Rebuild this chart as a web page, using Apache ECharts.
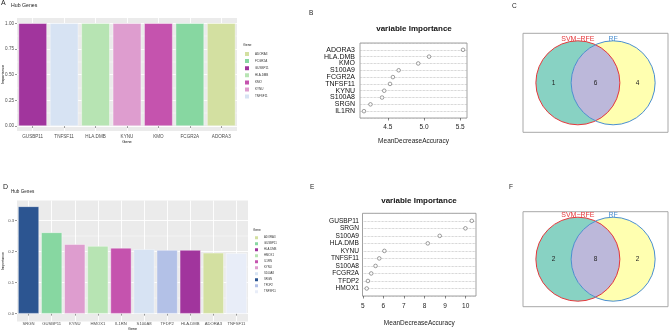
<!DOCTYPE html>
<html>
<head>
<meta charset="utf-8">
<script src="https://cdn.jsdelivr.net/npm/echarts@6/dist/echarts.min.js"></script>
<style>
  html, body { margin: 0; padding: 0; background: #fff; }
  #chart { width: 669px; height: 332px; }
</style>
</head>
<body>
<div id="chart"></div>
<script>
// A: hub genes, importance
const hubGenesA = ['GUSBP11', 'TNFSF11', 'HLA.DMB', 'KYNU', 'KMO', 'FCGR2A', 'ADORA3'];
const hubImportanceA = [1, 1, 1, 1, 1, 1, 1];
const hubColorsA = ['#a1359d', '#d7e3f3', '#b7e4b3', '#de9dcf', '#c553ae', '#87d7a1', '#d3e0a1'];
const yTicksA = [0, 0.25, 0.5, 0.75, 1];

// B: variable importance (random forest)
const varGenesB = ['ADORA3', 'HLA.DMB', 'KMO', 'S100A9', 'FCGR2A', 'TNFSF11', 'KYNU', 'S100A8', 'SRGN', 'IL1RN'];
const meanDecB = [5.54, 5.07, 4.92, 4.65, 4.57, 4.53, 4.45, 4.42, 4.26, 4.17];
const xTicksB = [4.5, 5.0, 5.5];

// C / F: venn counts (left only, both, right only)
const vennSets = ['SVM\u2212RFE', 'RF'];
const vennCountsC = [1, 6, 4];
const vennCountsF = [2, 8, 2];

// D: hub genes, importance
const hubGenesD = ['SRGN', 'GUSBP11', 'KYNU', 'HMOX1', 'IL1RN', 'S100A8', 'TFDP2', 'HLA.DMB', 'ADORA3', 'TNFSF11'];
const hubImportanceD = [0.346, 0.262, 0.224, 0.218, 0.212, 0.208, 0.205, 0.205, 0.196, 0.195];
const hubColorsD = ['#2c5591', '#87d7a1', '#de9dcf', '#b7e4b3', '#c553ae', '#d7e3f3', '#b3c1e7', '#a1359d', '#d3e0a1', '#e8edf8'];
const yTicksD = [0, 0.1, 0.2, 0.3];

// E: variable importance
const varGenesE = ['GUSBP11', 'SRGN', 'S100A9', 'HLA.DMB', 'KYNU', 'TNFSF11', 'S100A8', 'FCGR2A', 'TFDP2', 'HMOX1'];
const meanDecE = [10.3, 9.99, 8.74, 8.16, 6.05, 5.80, 5.62, 5.41, 5.25, 5.19];
const xTicksE = [5, 6, 7, 8, 9, 10];

const grids = [], xAxes = [], yAxes = [], series = [], legends = [], titles = [];

function text(t, left, top, size, extra) {
  titles.push(Object.assign({
    text: t, left: left, top: top, padding: 0,
    textStyle: { fontSize: size, fontWeight: 'normal', color: '#222' }
  }, extra || {}));
}

// ggplot style bar panel: grey panel grid + data grid (0..last tick)
function addHub(tag, genes, values, colors, ticks, box, digits, f) {
  const bg = grids.length;
  grids.push({ show: true, left: box.left, top: box.top, width: box.width, height: box.height,
    backgroundColor: '#ebebeb', borderWidth: 0 });
  const slots = [];
  for (let i = 0; i < genes.length * 2; i++) slots.push(i);
  xAxes.push({ gridIndex: bg, type: 'category', data: slots,
    axisLine: { show: false }, axisTick: { show: false }, axisLabel: { show: false },
    splitLine: { show: true, interval: (i) => i % 2 === 1, lineStyle: { color: '#fff', width: 0.9 } } });
  yAxes.push({ gridIndex: bg, type: 'value', min: 0, max: 1,
    axisLine: { show: false }, axisTick: { show: false }, axisLabel: { show: false }, splitLine: { show: false },
    name: 'Importance', nameLocation: 'middle', nameGap: 12,
    nameTextStyle: { fontSize: f.name, color: '#000' } });

  const dg = grids.length;
  grids.push({ left: box.left, top: box.tickTop, width: box.width, height: box.zero - box.tickTop });
  const xi = xAxes.length, yi = yAxes.length;
  xAxes.push({ gridIndex: dg, type: 'category', data: genes, offset: box.top + box.height - box.zero,
    axisLine: { show: false },
    axisTick: { show: true, alignWithLabel: true, length: 2, lineStyle: { color: '#333', width: 0.5 } },
    axisLabel: { interval: 0, fontSize: f.x, color: '#4d4d4d', margin: 3 },
    name: 'Gene', nameLocation: 'middle', nameGap: f.gap, nameTextStyle: { fontSize: f.name, color: '#000' } });
  yAxes.push({ gridIndex: dg, type: 'value', min: ticks[0], max: ticks[ticks.length - 1], interval: ticks[1] - ticks[0],
    axisLine: { show: false },
    axisTick: { show: true, length: 2, lineStyle: { color: '#333', width: 0.5 } },
    axisLabel: { fontSize: f.x, color: '#4d4d4d', margin: 3, formatter: (v) => v.toFixed(digits) },
    splitLine: { show: true, lineStyle: { color: '#fff', width: 0.9 } },
    minorTick: { show: false, splitNumber: 2 },
    minorSplitLine: { show: true, lineStyle: { color: '#fff', width: 0.4 } } });

  genes.forEach((g, i) => {
    series.push({ type: 'bar', name: tag + ':' + g, xAxisIndex: xi, yAxisIndex: yi,
      barWidth: '90%', barGap: '-100%', clip: false,
      itemStyle: { color: colors[i], borderColor: '#fff', borderWidth: 0.4 },
      data: genes.map((_, j) => (j === i ? values[i] : '-')) });
  });

  legends.push({ orient: 'vertical', left: f.legLeft, top: f.legTop, padding: 0,
    itemWidth: f.key, itemHeight: f.key, itemGap: f.keyGap, icon: 'rect', selectedMode: false,
    data: genes.slice().sort().map((g) => tag + ':' + g),
    formatter: (n) => n.split(':')[1],
    textStyle: { fontSize: f.leg, color: '#333' } });
}

// R dotchart style panel
function addDot(genes, vals, ticks, box, digits, f) {
  const gi = grids.length;
  grids.push({ show: true, left: box.left, top: box.top, width: box.width, height: box.height,
    borderColor: '#8a8a8a', borderWidth: 0.8, backgroundColor: 'transparent' });
  const lo = Math.min(...vals), hi = Math.max(...vals), pad = (hi - lo) * 0.04;
  const xi = xAxes.length, yi = yAxes.length;
  xAxes.push({ gridIndex: gi, type: 'value', min: lo - pad, max: hi + pad,
    axisLine: { show: false }, splitLine: { show: false },
    axisTick: { show: true, customValues: ticks, length: 2.5, lineStyle: { color: '#333', width: 0.6 } },
    axisLabel: { customValues: ticks, fontSize: 6.5, color: '#222', margin: f.margin, formatter: (v) => v.toFixed(digits) },
    name: 'MeanDecreaseAccuracy', nameLocation: 'middle', nameGap: f.gap,
    nameTextStyle: { fontSize: 6.5, color: '#222' } });
  yAxes.push({ gridIndex: gi, type: 'category', inverse: true, boundaryGap: false,
    data: [' '].concat(genes, ['  ']),
    axisLine: { show: false }, axisTick: { show: false },
    axisLabel: { interval: 0, fontSize: f.y, color: '#111', margin: f.ymargin },
    splitLine: { show: true, interval: 0, lineStyle: { type: 'dotted', color: '#b0b0b0', width: 0.7 } } });
  series.push({ type: 'scatter', xAxisIndex: xi, yAxisIndex: yi, symbol: 'circle', symbolSize: 3.6,
    itemStyle: { color: '#fff', borderColor: '#555', borderWidth: 0.7 },
    data: genes.map((g, i) => [vals[i], g]) });
}

// two-set venn: region 0 left only, 1 both, 2 right only
function addVenn(sets, counts, box) {
  const unit = 42, d = 0.42;
  const gi = grids.length;
  grids.push({ show: true, left: box.left, top: box.top, width: box.width, height: box.height,
    borderColor: '#a8a8a8', borderWidth: 1, backgroundColor: '#fff' });
  const hw = box.width / 2 / unit, hh = box.height / 2 / unit;
  const xi = xAxes.length, yi = yAxes.length;
  xAxes.push({ gridIndex: gi, type: 'value', min: -hw, max: hw, show: false });
  yAxes.push({ gridIndex: gi, type: 'value', min: -hh, max: hh, show: false });
  const fills = ['#88d2c3', '#bcb8da', '#ffffb0'];
  const strokes = ['#e5383b', null, '#4a8fd0'];
  series.push({ type: 'custom', xAxisIndex: xi, yAxisIndex: yi, clip: false,
    data: counts.map((c, i) => [i, c]),
    renderItem: function (params, api) {
      const region = api.value(0), count = api.value(1);
      const kids = [];
      if (region !== 1) {
        const cx = region === 0 ? -d : d;
        const c = api.coord([cx, 0]);
        const r = api.size([1, 0])[0];
        kids.push({ type: 'circle', shape: { cx: c[0], cy: c[1], r: r }, style: { fill: fills[region] }, z2: 1 });
        kids.push({ type: 'circle', shape: { cx: c[0], cy: c[1], r: r },
          style: { fill: null, stroke: strokes[region], lineWidth: 1 }, z2: 3 });
        const t = api.coord([cx, 1.05]);
        kids.push({ type: 'text', x: t[0], y: t[1], z2: 4,
          style: { text: sets[region === 0 ? 0 : 1], fill: strokes[region], fontSize: 7,
            align: 'center', verticalAlign: 'middle' } });
      } else {
        const a = Math.atan2(Math.sqrt(1 - d * d), d);
        const pts = [];
        for (let k = 0; k <= 40; k++) {
          const t = a - (2 * a * k) / 40;
          pts.push(api.coord([-d + Math.cos(t), Math.sin(t)]));
        }
        for (let k = 0; k <= 40; k++) {
          const t = -a + (2 * a * k) / 40;
          pts.push(api.coord([d - Math.cos(t), Math.sin(t)]));
        }
        kids.push({ type: 'polygon', shape: { points: pts }, style: { fill: fills[1] }, z2: 2 });
      }
      const p = api.coord([[-1, 0, 1][region], 0]);
      kids.push({ type: 'text', x: p[0], y: p[1], z2: 4,
        style: { text: String(count), fill: '#222', fontSize: 6.5, align: 'center', verticalAlign: 'middle' } });
      return { type: 'group', children: kids };
    } });
}

addHub('A', hubGenesA, hubImportanceA, hubColorsA, yTicksA,
  { left: 17, top: 18, width: 220, height: 113, zero: 126, tickTop: 23.3 }, 2,
  { x: 4.6, name: 3.8, gap: 8, legLeft: 243, legTop: 50, key: 6, keyGap: -0.9, leg: 3 });
addDot(varGenesB, meanDecB, xTicksB, { left: 360, top: 43, width: 107, height: 75 }, 1,
  { y: 7, ymargin: 5, margin: 6, gap: 20 });
addVenn(vennSets, vennCountsC, { left: 523, top: 33.3, width: 145, height: 99 });
addHub('D', hubGenesD, hubImportanceD, hubColorsD, yTicksD,
  { left: 17, top: 200.5, width: 231, height: 121, zero: 316, tickTop: 220.7 }, 1,
  { x: 4.2, name: 3.6, gap: 6, legLeft: 253, legTop: 234.2, key: 5, keyGap: -1.0, leg: 2.8 });
addDot(varGenesE, meanDecE, xTicksE, { left: 362.5, top: 213.3, width: 113.5, height: 82.7 }, 0,
  { y: 6.6, ymargin: 3.5, margin: 7, gap: 24 });
addVenn(vennSets, vennCountsF, { left: 523, top: 211.7, width: 145, height: 95 });

text('A', 1, 0, 7);
text('Hub Genes', 11, 3.5, 5.2);
text('Gene', 243, 43.5, 3.5);
text('B', 309, 10, 6.5);
text('variable Importance', 414, 25, 8, { textAlign: 'center',
  textStyle: { fontSize: 8, fontWeight: 'bold', color: '#111' } });
text('C', 512, 3, 6.5);
text('D', 3, 184, 7);
text('Hub Genes', 11, 189, 4.6);
text('Gene', 253, 229, 3.2);
text('E', 310, 184, 6.5);
text('variable Importance', 419, 197, 8, { textAlign: 'center',
  textStyle: { fontSize: 8, fontWeight: 'bold', color: '#111' } });
text('F', 509, 184, 6.5);

const chart = echarts.init(document.getElementById('chart'));
chart.setOption({
  animation: false,
  backgroundColor: '#fff',
  textStyle: { fontFamily: 'Liberation Sans, Arial, sans-serif' },
  title: titles,
  legend: legends,
  grid: grids,
  xAxis: xAxes,
  yAxis: yAxes,
  series: series
});
</script>
</body>
</html>
